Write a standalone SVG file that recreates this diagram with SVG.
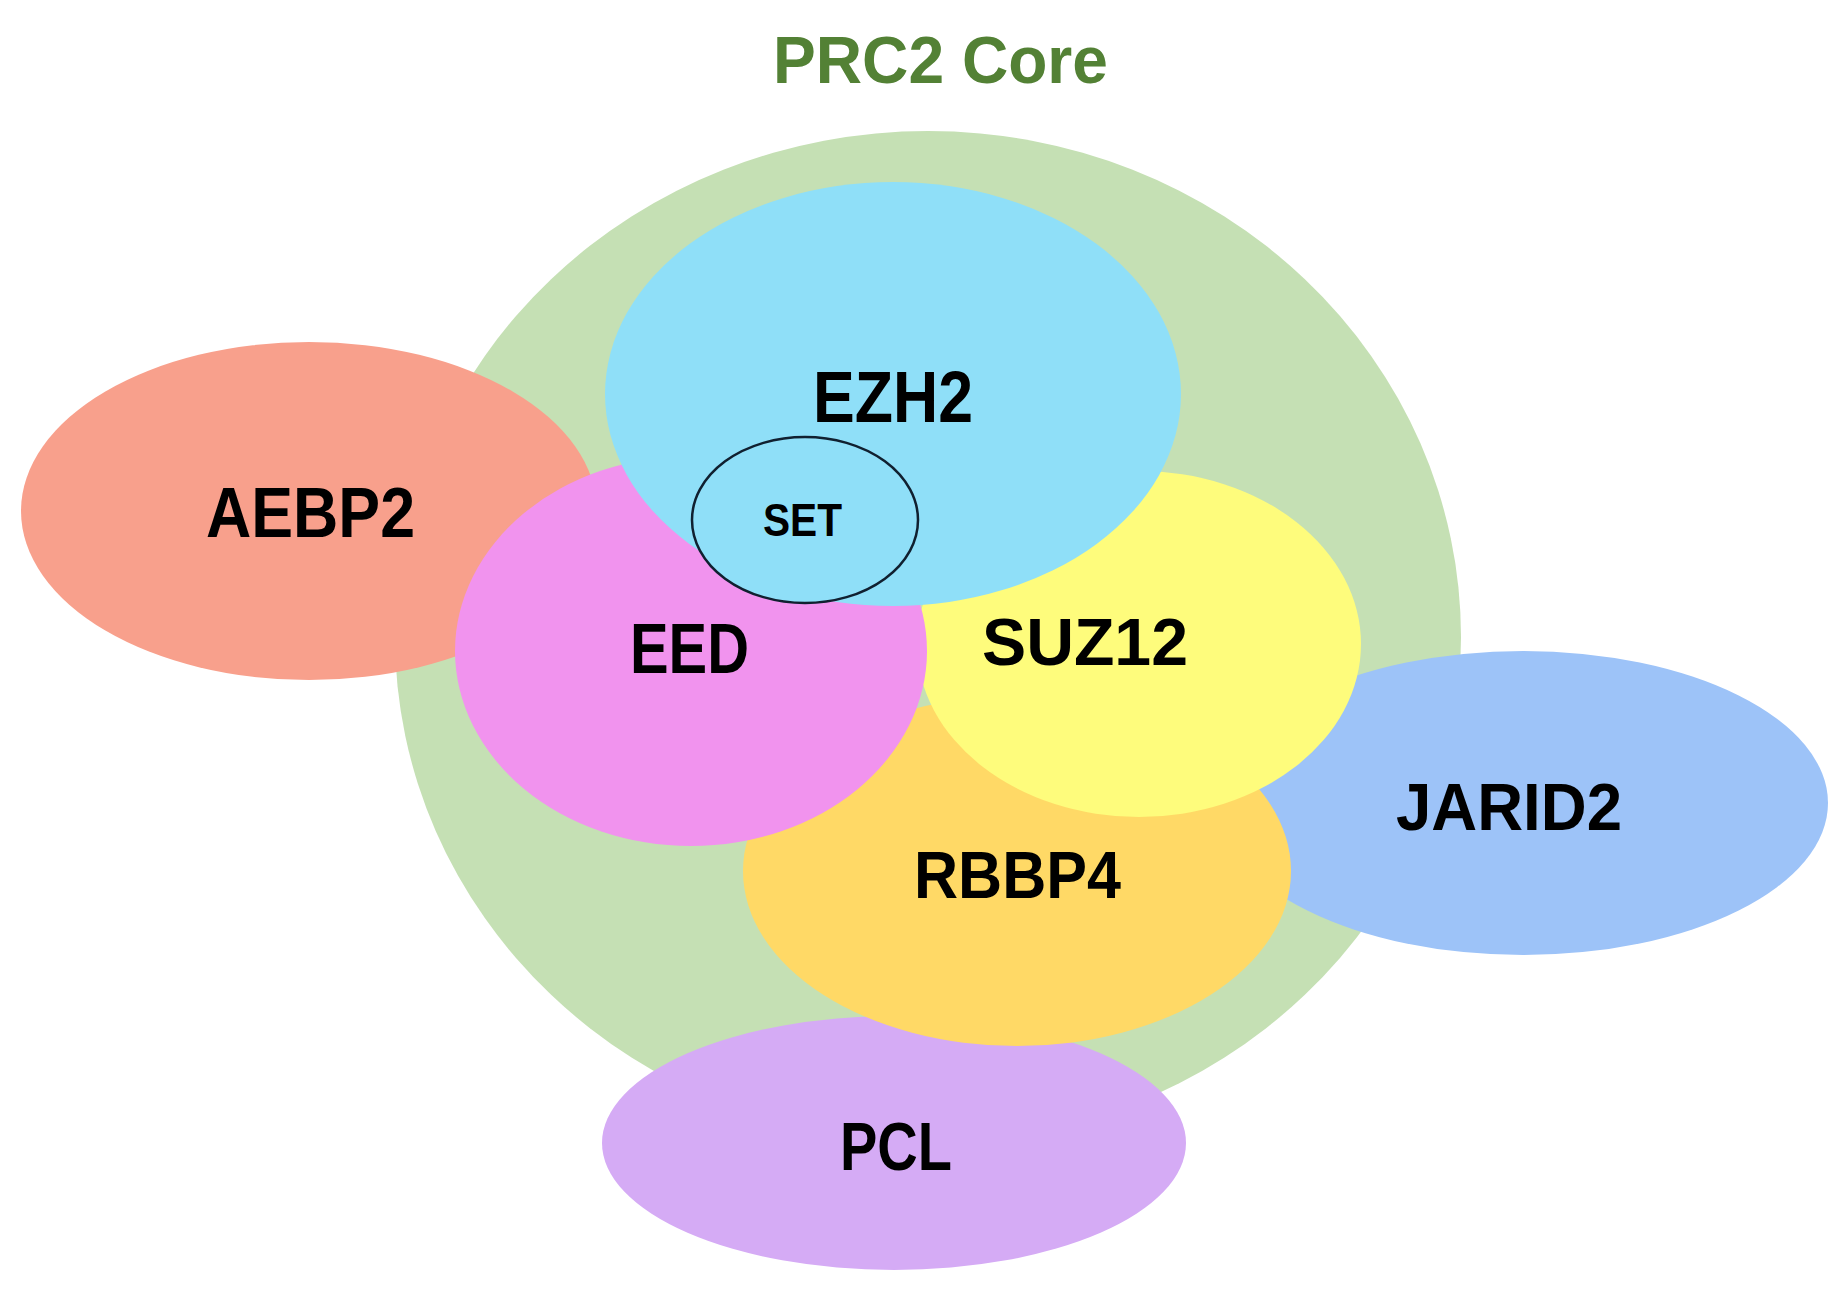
<svg xmlns="http://www.w3.org/2000/svg" width="1837" height="1291" viewBox="0 0 1837 1291">
<style>
.lbl{font-family:"Liberation Sans",Arial,sans-serif;font-weight:bold;fill:#000;}
</style>
<rect x="0" y="0" width="1837" height="1291" fill="#ffffff"/>
<g id="prc2-core">
<ellipse cx="928" cy="637" rx="533" ry="506" fill="#C5E0B4"/>
<text class="lbl" x="773" y="83" font-size="67" textLength="335" lengthAdjust="spacingAndGlyphs" style="fill:#538135">PRC2 Core</text>
</g>
<g id="connectors"></g>
<g id="aebp2">
<ellipse cx="309" cy="511" rx="288" ry="169" fill="#F8A08C"/>
<text class="lbl" x="206" y="537" font-size="70" textLength="209" lengthAdjust="spacingAndGlyphs">AEBP2</text>
</g>
<g id="jarid2">
<ellipse cx="1523" cy="803" rx="305" ry="152" fill="#9DC3F8"/>
<text class="lbl" x="1396" y="830" font-size="66" textLength="226" lengthAdjust="spacingAndGlyphs">JARID2</text>
</g>
<g id="pcl">
<ellipse cx="894" cy="1143" rx="292" ry="127" fill="#D5ABF5"/>
<text class="lbl" x="840" y="1170" font-size="68" textLength="112" lengthAdjust="spacingAndGlyphs">PCL</text>
</g>
<g id="rbbp4">
<ellipse cx="1017" cy="871" rx="274" ry="175" fill="#FFD966"/>
<text class="lbl" x="914" y="898" font-size="67" textLength="207" lengthAdjust="spacingAndGlyphs">RBBP4</text>
</g>
<g id="suz12">
<ellipse cx="1139" cy="644" rx="222" ry="173" fill="#FEFC7C"/>
<text class="lbl" x="982" y="665" font-size="67" textLength="206" lengthAdjust="spacingAndGlyphs">SUZ12</text>
</g>
<g id="eed">
<ellipse cx="691" cy="651" rx="236" ry="195" fill="#F193EE"/>
<text class="lbl" x="630" y="673" font-size="70" textLength="119" lengthAdjust="spacingAndGlyphs">EED</text>
</g>
<g id="ezh2">
<ellipse cx="893" cy="394" rx="288" ry="212" fill="#8FDFF8"/>
<text class="lbl" x="813" y="422" font-size="72" textLength="160" lengthAdjust="spacingAndGlyphs">EZH2</text>
</g>
<g id="set">
<ellipse cx="805" cy="520" rx="113" ry="83" fill="#8FDFF8" stroke="#102030" stroke-width="2.5"/>
<text class="lbl" x="763" y="536" font-size="47" textLength="79" lengthAdjust="spacingAndGlyphs">SET</text>
</g>
</svg>
